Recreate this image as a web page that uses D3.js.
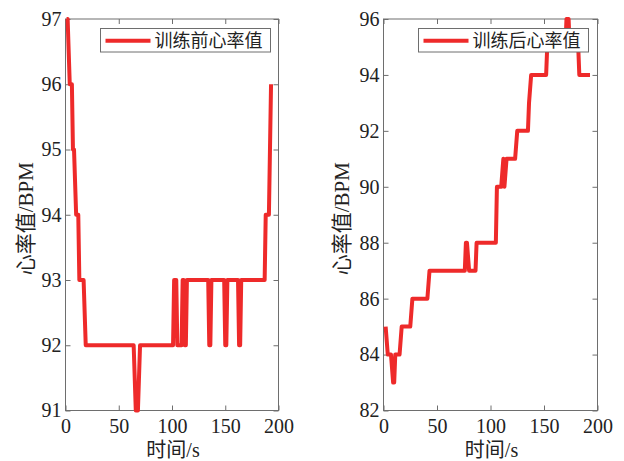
<!DOCTYPE html>
<html>
<head>
<meta charset="utf-8">
<script src="https://cdn.jsdelivr.net/npm/d3@7"></script>
<style>
  html, body { margin: 0; padding: 0; background: #fff; }
  svg { display: block; }
  text { font-family: "Liberation Serif", "Times New Roman", "Noto Sans CJK SC", serif; fill: #222; }
  .cjk { font-family: "Liberation Serif", "Noto Sans CJK SC", sans-serif; }
</style>
</head>
<body>
<svg id="chart" width="624" height="461"></svg>
<script>
// ---- Data ----
const beforeTime  = [1, 2, 4, 6, 7, 8, 10, 12, 13, 17, 19, 64, 66, 68, 70, 101, 102, 104, 105, 109, 110, 111, 112, 113, 114, 134, 135, 136, 137, 149, 150, 151, 152, 162, 163, 164, 165, 187, 188, 191, 193];
const beforeValue = [97, 97, 96, 96, 95, 95, 94, 94, 93, 93, 92, 92, 91, 91, 92, 92, 93, 93, 92, 92, 93, 93, 92, 92, 93, 93, 92, 92, 93, 93, 92, 92, 93, 93, 92, 92, 93, 93, 94, 94, 96];

const afterTime  = [2, 4, 7, 9, 10, 11, 15, 17, 25, 27, 41, 43, 76, 77, 78, 80, 86, 87, 105, 106, 110, 112, 113, 115, 123, 125, 135, 136, 138, 152, 153, 170, 171, 173, 174, 182, 183, 193];
const afterValue = [85, 84, 84, 83, 83, 84, 84, 85, 85, 86, 86, 87, 87, 88, 88, 87, 87, 88, 88, 90, 90, 91, 90, 91, 91, 92, 92, 93, 94, 94, 95, 95, 96, 96, 95, 95, 94, 94];

const xTicks = [0, 50, 100, 150, 200];
const leftYTicks = [91, 92, 93, 94, 95, 96, 97];
const rightYTicks = [82, 84, 86, 88, 90, 92, 94, 96];

const leftLegend = "训练前心率值";
const rightLegend = "训练后心率值";
const yLabel = "心率值/BPM";
const xLabel = "时间/s";

// ---- Drawing ----
const svg = d3.select("#chart");
const RED = "#ee2a2a";
const AX = "#6e6e6e";

function panel(opts) {
  const { x0, x1, y0, y1, yDomain, yTicks, times, values, legend, legendBox, ylabX } = opts;
  const x = d3.scaleLinear().domain([0, 200]).range([x0, x1]);
  const y = d3.scaleLinear().domain(yDomain).range([y1, y0]);
  const g = svg.append("g");

  // box
  g.append("rect").attr("x", x0).attr("y", y0).attr("width", x1 - x0).attr("height", y1 - y0)
    .attr("fill", "none").attr("stroke", AX).attr("stroke-width", 1);

  // bottom axis
  const bx = g.append("g").attr("transform", `translate(0,${y1})`)
    .call(d3.axisBottom(x).tickValues(xTicks).tickSize(-5).tickPadding(8).tickFormat(d3.format("d")));
  // top ticks
  const tx = g.append("g").attr("transform", `translate(0,${y0})`)
    .call(d3.axisTop(x).tickValues(xTicks).tickSize(-5).tickFormat(""));
  // left axis
  const lx = g.append("g").attr("transform", `translate(${x0},0)`)
    .call(d3.axisLeft(y).tickValues(yTicks).tickSize(-5).tickPadding(4).tickFormat(d3.format("d")));
  // right ticks
  const rx = g.append("g").attr("transform", `translate(${x1},0)`)
    .call(d3.axisRight(y).tickValues(yTicks).tickSize(-5).tickFormat(""));

  [bx, tx, lx, rx].forEach(a => {
    a.select(".domain").remove();
    a.selectAll(".tick line").attr("stroke", AX);
    a.selectAll(".tick text").attr("font-size", 20).attr("fill", "#222")
      .style("font-family", '"Liberation Serif", "Times New Roman", serif');
  });

  // line
  const pts = times.map((t, i) => [t, values[i]]);
  g.append("path").datum(pts)
    .attr("fill", "none").attr("stroke", RED).attr("stroke-width", 4)
    .attr("stroke-linejoin", "round")
    .attr("d", d3.line().x(d => x(d[0])).y(d => y(d[1])));

  // legend
  const [lx0, ly0, lw, lh] = legendBox;
  g.append("rect").attr("x", lx0).attr("y", ly0).attr("width", lw).attr("height", lh)
    .attr("fill", "#fff").attr("stroke", AX).attr("stroke-width", 1);
  g.append("line").attr("x1", lx0 + 5).attr("x2", lx0 + 50)
    .attr("y1", ly0 + lh / 2 + 0.5).attr("y2", ly0 + lh / 2 + 0.5)
    .attr("stroke", RED).attr("stroke-width", 4);
  g.append("text").attr("class", "cjk").attr("x", lx0 + 54).attr("y", ly0 + lh / 2 + 6.5)
    .attr("font-size", 18).text(legend);

  // axis labels
  g.append("text").attr("class", "cjk").attr("x", (x0 + x1) / 2 + 1).attr("y", 457)
    .attr("text-anchor", "middle").attr("font-size", 20).text(xLabel);
  g.append("text").attr("class", "cjk")
    .attr("transform", `translate(${ylabX},${(y0 + y1) / 2 + 4}) rotate(-90)`)
    .attr("text-anchor", "middle").attr("font-size", 21).text(yLabel);
}

panel({ x0: 65.5, x1: 278.5, y0: 19, y1: 410.5, yDomain: [91, 97], yTicks: leftYTicks,
  times: beforeTime, values: beforeValue, legend: leftLegend,
  legendBox: [100.5, 28.5, 170, 23.5], ylabX: 33 });

panel({ x0: 383.5, x1: 597.5, y0: 19, y1: 410.5, yDomain: [82, 96], yTicks: rightYTicks,
  times: afterTime, values: afterValue, legend: rightLegend,
  legendBox: [418.5, 28.5, 170, 23.5], ylabX: 349 });
</script>
</body>
</html>
